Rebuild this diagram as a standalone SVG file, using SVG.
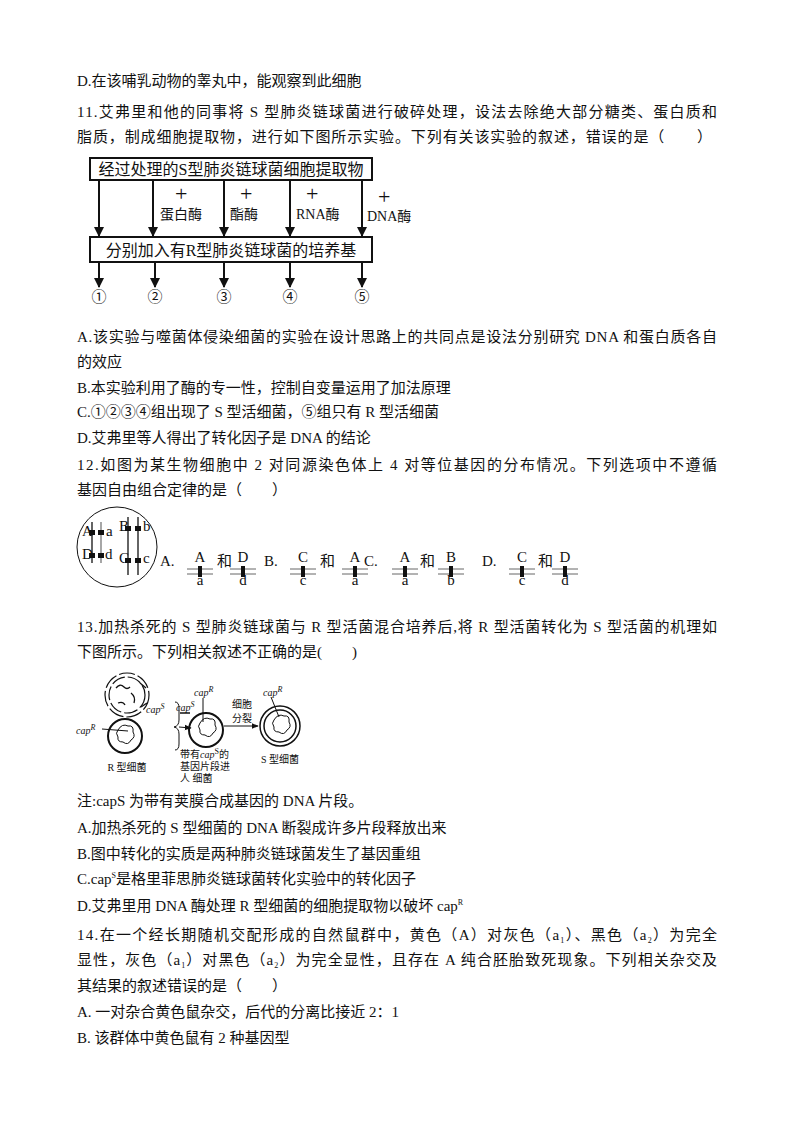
<svg xmlns="http://www.w3.org/2000/svg" width="800" height="1132" viewBox="0 0 800 1132">
<style>
text{font-family:"Liberation Serif","Noto Sans CJK SC",serif;font-size:15px;fill:#111}
.s{font-size:14px}
.t{font-size:10px}
.g{font-size:8px}
.k{stroke:#111;fill:none}
</style>
<defs>
<marker id="ah" viewBox="0 0 10 10" refX="9" refY="5" markerWidth="5" markerHeight="5" orient="auto"><path d="M0,0L10,5L0,10z" fill="#111"/></marker>
<marker id="as" viewBox="0 0 10 10" refX="9" refY="5" markerWidth="7" markerHeight="7" orient="auto"><path d="M0,1L10,5L0,9z" fill="#111"/></marker>
</defs>
<rect width="800" height="1132" fill="#fff"/>
<g id="text">
<text x="77" y="86">D.在该哺乳动物的睾丸中，能观察到此细胞</text>
<text x="77" y="117" textLength="640" lengthAdjust="spacing">11.艾弗里和他的同事将 S 型肺炎链球菌进行破碎处理，设法去除绝大部分糖类、蛋白质和</text>
<text x="77" y="142" textLength="635" lengthAdjust="spacing">脂质，制成细胞提取物，进行如下图所示实验。下列有关该实验的叙述，错误的是（　　）</text>
<text x="77" y="342" textLength="640" lengthAdjust="spacing">A.该实验与噬菌体侵染细菌的实验在设计思路上的共同点是设法分别研究 DNA 和蛋白质各自</text>
<text x="77" y="367">的效应</text>
<text x="77" y="393">B.本实验利用了酶的专一性，控制自变量运用了加法原理</text>
<text x="77" y="417">C.①②③④组出现了 S 型活细菌，⑤组只有 R 型活细菌</text>
<text x="77" y="443">D.艾弗里等人得出了转化因子是 DNA 的结论</text>
<text x="77" y="470" textLength="640" lengthAdjust="spacing">12.如图为某生物细胞中 2 对同源染色体上 4 对等位基因的分布情况。下列选项中不遵循</text>
<text x="77" y="495">基因自由组合定律的是（　　）</text>
<text x="77" y="632" textLength="640" lengthAdjust="spacing">13.加热杀死的 S 型肺炎链球菌与 R 型活菌混合培养后,将 R 型活菌转化为 S 型活菌的机理如</text>
<text x="77" y="657">下图所示。下列相关叙述不正确的是(　　)</text>
<text x="77" y="806">注:capS 为带有荚膜合成基因的 DNA 片段。</text>
<text x="77" y="833">A.加热杀死的 S 型细菌的 DNA 断裂成许多片段释放出来</text>
<text x="77" y="859">B.图中转化的实质是两种肺炎链球菌发生了基因重组</text>
<text x="77" y="884">C.cap<tspan class="g" dy="-6">S</tspan><tspan dy="6">是格里菲思肺炎链球菌转化实验中的转化因子</tspan></text>
<text x="77" y="911">D.艾弗里用 DNA 酶处理 R 型细菌的细胞提取物以破坏 cap<tspan class="g" dy="-6">R</tspan></text>
<text x="77" y="940" textLength="640" lengthAdjust="spacing">14.在一个经长期随机交配形成的自然鼠群中，黄色（A）对灰色（a<tspan class="g" dy="3">1</tspan><tspan dy="-3">）、黑色（a</tspan><tspan class="g" dy="3">2</tspan><tspan dy="-3">）为完全</tspan></text>
<text x="77" y="965" textLength="640" lengthAdjust="spacing">显性，灰色（a<tspan class="g" dy="3">1</tspan><tspan dy="-3">）对黑色（a</tspan><tspan class="g" dy="3">2</tspan><tspan dy="-3">）为完全显性，且存在 A 纯合胚胎致死现象。下列相关杂交及</tspan></text>
<text x="77" y="991">其结果的叙述错误的是（　　）</text>
<text x="77" y="1017">A. 一对杂合黄色鼠杂交，后代的分离比接近 2：1</text>
<text x="77" y="1043">B. 该群体中黄色鼠有 2 种基因型</text>
</g>
<g id="flow">
<rect x="90" y="158" width="282" height="22" class="k" stroke-width="2"/>
<text x="231" y="175" text-anchor="middle" style="font-size:16px">经过处理的S型肺炎链球菌细胞提取物</text>
<rect x="90" y="237" width="282" height="25" class="k" stroke-width="2"/>
<text x="231" y="256" text-anchor="middle" style="font-size:16px">分别加入有R型肺炎链球菌的培养基</text>
<g stroke="#111" stroke-width="2" marker-end="url(#ah)">
<line x1="99" y1="180" x2="99" y2="236"/><line x1="153" y1="180" x2="153" y2="236"/><line x1="224" y1="180" x2="224" y2="236"/><line x1="290" y1="180" x2="290" y2="236"/><line x1="362" y1="180" x2="362" y2="236"/>
<line x1="99" y1="263" x2="99" y2="287"/><line x1="155" y1="263" x2="155" y2="287"/><line x1="224" y1="263" x2="224" y2="287"/><line x1="290" y1="263" x2="290" y2="287"/><line x1="362" y1="263" x2="362" y2="287"/>
</g>
<text x="175" y="201" style="font-size:22px">+</text><text x="240" y="201" style="font-size:22px">+</text><text x="306" y="201" style="font-size:22px">+</text><text x="378" y="204" style="font-size:22px">+</text>
<text x="160" y="219" class="s">蛋白酶</text><text x="230" y="219" class="s">酯酶</text><text x="296" y="219" class="s">RNA酶</text><text x="367" y="221" class="s">DNA酶</text>
<text x="99" y="302" text-anchor="middle">①</text><text x="155" y="302" text-anchor="middle">②</text><text x="224" y="302" text-anchor="middle">③</text><text x="290" y="302" text-anchor="middle">④</text><text x="362" y="302" text-anchor="middle">⑤</text>
</g>
<g id="chromo">
<ellipse cx="117" cy="547" rx="40" ry="40" class="k"/>
<g stroke="#111" stroke-width="1.3"><line x1="92" y1="522" x2="92" y2="563"/><line x1="101" y1="522" x2="101" y2="563" stroke="#777"/><line x1="128" y1="517" x2="128" y2="575"/><line x1="138" y1="517" x2="138" y2="575"/></g>
<g fill="#111"><rect x="89" y="530" width="6" height="5"/><rect x="98" y="530" width="6" height="5"/><rect x="89" y="553" width="6" height="5"/><rect x="98" y="553" width="6" height="5"/><rect x="125" y="526" width="6" height="5"/><rect x="135" y="526" width="6" height="5"/><rect x="125" y="558" width="6" height="5"/><rect x="135" y="558" width="6" height="5"/></g>
<g style="font-size:7px"><text x="82" y="536">A</text><text x="106" y="536">a</text><text x="82" y="559">D</text><text x="105" y="559">d</text><text x="119" y="531">B</text><text x="143" y="531">b</text><text x="119" y="563">C</text><text x="143" y="563">c</text></g>
<g style="font-family:'Noto Sans',sans-serif"><text x="160" y="566">A.</text><text x="264" y="566">B.</text><text x="364" y="566">C.</text><text x="482" y="566">D.</text></g>
<text x="217" y="566">和</text><text x="320" y="566">和</text><text x="420" y="566">和</text><text x="538" y="566">和</text>
</g>
<g id="genes" stroke="#666" stroke-width="1">
<g transform="translate(200,0)"><line x1="-13" y1="569" x2="13" y2="569"/><line x1="-13" y1="574" x2="13" y2="574"/></g>
<g transform="translate(243,0)"><line x1="-13" y1="569" x2="13" y2="569"/><line x1="-13" y1="574" x2="13" y2="574"/></g>
<g transform="translate(303,0)"><line x1="-13" y1="569" x2="13" y2="569"/><line x1="-13" y1="574" x2="13" y2="574"/></g>
<g transform="translate(355,0)"><line x1="-13" y1="569" x2="13" y2="569"/><line x1="-13" y1="574" x2="13" y2="574"/></g>
<g transform="translate(405,0)"><line x1="-13" y1="569" x2="13" y2="569"/><line x1="-13" y1="574" x2="13" y2="574"/></g>
<g transform="translate(451,0)"><line x1="-13" y1="569" x2="13" y2="569"/><line x1="-13" y1="574" x2="13" y2="574"/></g>
<g transform="translate(522,0)"><line x1="-13" y1="569" x2="13" y2="569"/><line x1="-13" y1="574" x2="13" y2="574"/></g>
<g transform="translate(565,0)"><line x1="-13" y1="569" x2="13" y2="569"/><line x1="-13" y1="574" x2="13" y2="574"/></g>
</g>
<g id="genemarks" fill="#111">
<rect x="198" y="566" width="4" height="11"/><rect x="241" y="566" width="4" height="11"/><rect x="301" y="566" width="4" height="11"/><rect x="353" y="566" width="4" height="11"/><rect x="403" y="566" width="4" height="11"/><rect x="449" y="566" width="4" height="11"/><rect x="520" y="566" width="4" height="11"/><rect x="563" y="566" width="4" height="11"/>
<g class="g" text-anchor="middle">
<text x="200" y="562">A</text><text x="200" y="585">a</text><text x="243" y="562">D</text><text x="243" y="585">d</text>
<text x="303" y="562">C</text><text x="303" y="585">c</text><text x="355" y="562">A</text><text x="355" y="585">a</text>
<text x="405" y="562">A</text><text x="405" y="585">a</text><text x="451" y="562">B</text><text x="451" y="585">b</text>
<text x="522" y="562">C</text><text x="522" y="585">c</text><text x="565" y="562">D</text><text x="565" y="585">d</text>
</g>
</g>
<g id="bacteria" stroke="#111" fill="none">
<circle cx="127" cy="695" r="22" stroke-width="1.2" stroke-dasharray="16 3"/>
<circle cx="127" cy="695" r="18" stroke-width="1.2" stroke-dasharray="14 3"/>
<path d="M116,688 q4,-5 8,-1 q3,3 6,0" stroke-width="1.3"/><path d="M118,703 q5,-2 7,2" stroke-width="1.3"/><path d="M131,693 q5,4 3,10" stroke-width="1.3"/>
<path d="M140,683 l6,5" stroke-width="1.3"/><path d="M141,707 l6,-4" stroke-width="1.3"/>
<circle cx="125" cy="736" r="17" stroke-width="2"/>
<path d="M118,730 q4,-7 10,-4 q6,-1 5,6 q3,5 -2,8 q-3,6 -8,2 q-6,0 -5,-5 q-3,-4 0,-7z" stroke-width="1"/>
<line x1="102" y1="729" x2="128" y2="731"/>
<path d="M175,702 q4,0 4,6 v12 q0,6 -5,7 q5,1 5,7 v10 q0,6 -4,6" stroke-width="1"/>
<line x1="179" y1="727" x2="191" y2="728" marker-end="url(#as)"/>
<circle cx="206" cy="730" r="17" stroke-width="2"/>
<path d="M200,723 q4,-7 10,-4 q6,-1 5,6 q3,5 -2,8 q-3,6 -8,2 q-6,0 -5,-5 q-3,-4 0,-7z" stroke-width="1"/>
<line x1="203" y1="698" x2="203" y2="722"/><line x1="180" y1="713" x2="190" y2="713" stroke-width="1.5"/>
<line x1="224" y1="726" x2="258" y2="726" marker-end="url(#as)"/>
<circle cx="280" cy="726" r="20" stroke-width="1.5"/>
<circle cx="280" cy="726" r="16" stroke-width="1.5"/>
<path d="M274,720 q4,-7 10,-4 q6,-1 5,6 q3,5 -2,8 q-3,6 -8,2 q-6,0 -5,-5 q-3,-4 0,-7z" stroke-width="1"/>
<line x1="271" y1="697" x2="279" y2="717"/>
</g>
<g id="bactlabels">
<text x="146" y="713" class="t" font-style="italic">cap<tspan class="g" dy="-4">S</tspan></text>
<text x="76" y="734" class="t" font-style="italic">cap<tspan class="g" dy="-4">R</tspan></text>
<text x="176" y="711" class="t" font-style="italic">cap<tspan class="g" dy="-4">S</tspan></text>
<text x="194" y="696" class="t" font-style="italic">cap<tspan class="g" dy="-4">R</tspan></text>
<text x="263" y="696" class="t" font-style="italic">cap<tspan class="g" dy="-4">R</tspan></text>
<text x="232" y="708" class="t">细胞</text><text x="232" y="722" class="t">分裂</text>
<text x="127" y="771" class="t" text-anchor="middle">R 型细菌</text>
<text x="280" y="763" class="t" text-anchor="middle">S 型细菌</text>
<text x="180" y="758" class="t">带有<tspan font-style="italic">cap</tspan><tspan class="g" dy="-4">S</tspan><tspan dy="4">的</tspan></text>
<text x="180" y="770" class="t">基因片段进</text>
<text x="180" y="782" class="t">人 细菌</text>
</g>
</svg>
